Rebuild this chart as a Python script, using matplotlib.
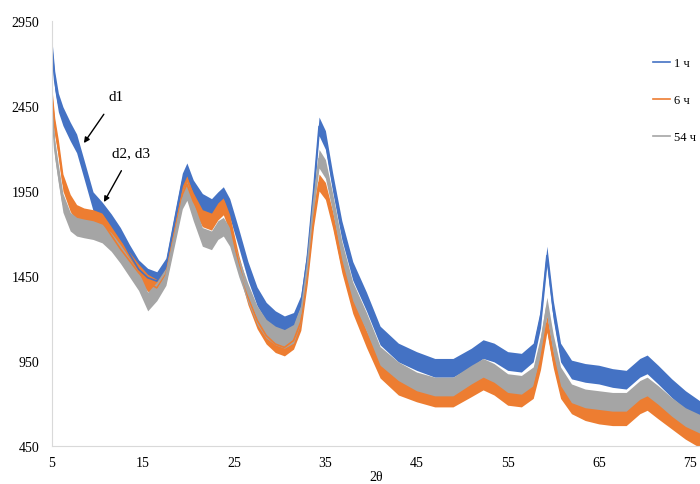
import numpy as np
import matplotlib
matplotlib.use('Agg')
import matplotlib.pyplot as plt

plt.rcParams['font.family'] = ['Liberation Serif', 'DejaVu Serif']

two_theta = [5, 5.3, 5.7, 6.2, 7, 7.7, 8.5, 9.5, 10.5, 11.5, 12.5, 13.5, 14.5, 15.5,
             16.5, 17.5, 18.5, 19.3, 19.8, 20.5, 21.5, 22.5, 23.2, 23.8, 24.5, 25.5,
             26.5, 27.5, 28.5, 29.5, 30.5, 31.5, 32.3, 33, 33.7, 34.3, 35, 35.8, 36.8,
             38, 39.5, 41, 43, 45, 47, 49, 51, 52.3, 53.5, 55, 56.5, 57.8, 58.6, 59.3,
             60, 60.8, 62, 63.5, 65, 66.5, 68, 69.5, 70.3, 71.5, 73, 74.5, 76.1]

# intensity, 1 h
h1 = [2780, 2600, 2470, 2390, 2300, 2230, 2080, 1890, 1830, 1760, 1680, 1580, 1490, 1440,
      1420, 1500, 1780, 2000, 2060, 1960, 1880, 1850, 1890, 1920, 1850, 1670,
      1480, 1330, 1240, 1190, 1160, 1180, 1280, 1550, 1950, 2330, 2250, 2000, 1720,
      1480, 1300, 1100, 1000, 950, 910, 910, 970, 1020, 1000, 950, 940, 1000, 1200, 1570,
      1250, 1000, 900, 880, 870, 850, 840, 910, 930, 870, 790, 720, 660]

# intensity, 6 h
h6 = [2500, 2330, 2200, 2000, 1880, 1820, 1800, 1790, 1770, 1690, 1610, 1540, 1470, 1410,
      1380, 1460, 1720, 1930, 1990, 1890, 1790, 1770, 1830, 1860, 1760, 1520,
      1330, 1190, 1100, 1050, 1030, 1070, 1180, 1450, 1790, 2000, 1950, 1780, 1520,
      1280, 1080, 900, 800, 760, 730, 730, 790, 830, 800, 740, 730, 780, 950, 1170,
      960, 780, 690, 650, 630, 620, 620, 690, 710, 660, 600, 540, 490]

# intensity, 54 h
h54 = [2430, 2200, 2050, 1880, 1770, 1740, 1730, 1720, 1700, 1650, 1580, 1500, 1420, 1300,
       1360, 1450, 1700, 1900, 1950, 1830, 1680, 1660, 1720, 1740, 1680, 1500,
       1350, 1220, 1140, 1100, 1080, 1110, 1230, 1500, 1880, 2140, 2080, 1880, 1600,
       1360, 1180, 980, 890, 830, 800, 800, 870, 910, 880, 820, 810, 860, 1040, 1270,
       1050, 860, 760, 730, 720, 710, 710, 780, 800, 750, 680, 620, 580]

labels = ['1 ч', '6 ч', '54 ч']
colors = ['#4472C4', '#ED7D31', '#A5A5A5']
noise = [55, 50, 55]   # half height of the noisy band

fig = plt.figure(figsize=(7, 4.85), dpi=100)
ax = fig.add_axes([52/700, 1-447/485, 648/700, 425/485])

x = np.array(two_theta)
for y, c, lab, w in zip([h1, h6, h54], colors, labels, noise):
    y = np.array(y)
    ax.fill_between(x, y - w, y + w, color=c, lw=0)
    ax.plot(x, y, color=c, lw=1.2, label=lab)

ax.set_xlim(5, 76.1)
ax.set_ylim(450, 2950)
ax.set_xticks(np.arange(5, 76, 10))
ax.set_yticks(np.arange(450, 2951, 500))
ax.tick_params(length=0, labelsize=10)
ax.tick_params(axis='x', pad=7)
ax.tick_params(axis='y', pad=9)
for s in ['top', 'right']:
    ax.spines[s].set_visible(False)
for s in ['left', 'bottom']:
    ax.spines[s].set_color('#D9D9D9')
ax.set_xlabel('2θ', fontsize=10, labelpad=1)

ax.annotate('d1', xy=(8.5, 2232), xytext=(12.0, 2503), fontsize=11,
            ha='center', va='center',
            arrowprops=dict(arrowstyle='-|>', color='black', lw=1, mutation_scale=8,
                            shrinkA=7, shrinkB=0))
ax.annotate('d2, d3', xy=(10.7, 1885), xytext=(13.7, 2174), fontsize=11,
            ha='center', va='center',
            arrowprops=dict(arrowstyle='-|>', color='black', lw=1, mutation_scale=8,
                            shrinkA=7, shrinkB=0))

fig.legend(loc='upper left', bbox_to_anchor=(0.925, 0.89), frameon=False,
           fontsize=9, handlelength=1.4, handletextpad=0.3, labelspacing=2.0,
           borderaxespad=0)

fig.savefig('out.png', dpi=100)
